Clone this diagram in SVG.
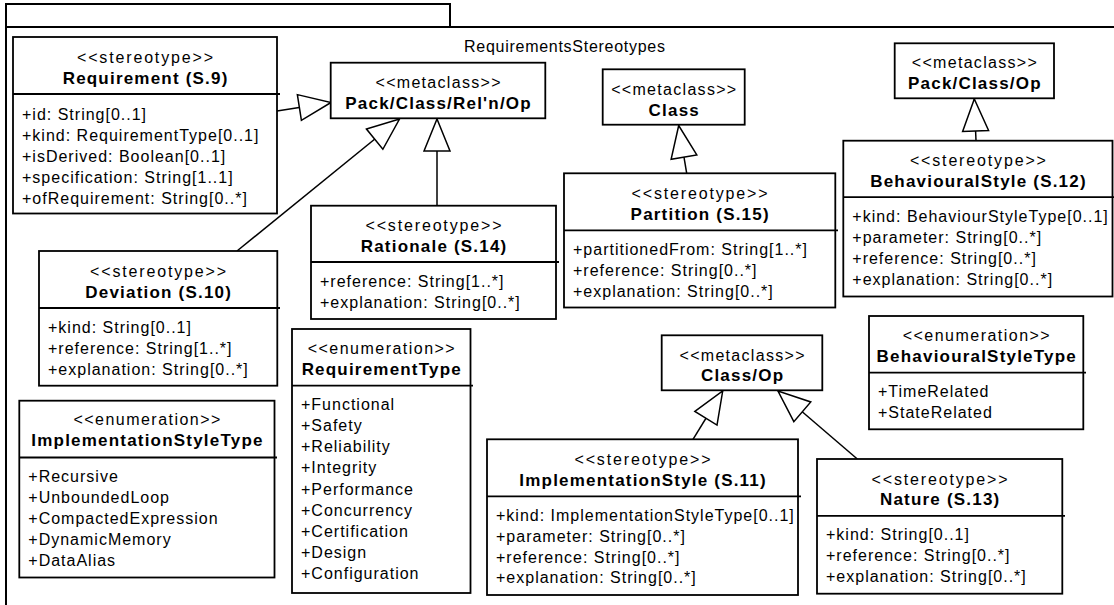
<svg xmlns="http://www.w3.org/2000/svg" width="1114" height="605" viewBox="0 0 1114 605">
<style>
text{font-family:"Liberation Sans",Arial,sans-serif;fill:#000}
.box{fill:#fff;stroke:#000;stroke-width:1.8}
.dv{stroke:#000;stroke-width:1.8}
.st{font-size:16px;text-anchor:middle}
.tt{font-size:17px;font-weight:bold;text-anchor:middle;letter-spacing:1.2px}
.at{font-size:16px;letter-spacing:1px}
.frame{fill:none;stroke:#000;stroke-width:2}
.conn line{stroke:#000;stroke-width:1.5;marker-end:url(#gen)}
</style>
<defs>
<marker id="gen" markerUnits="userSpaceOnUse" viewBox="-2 -2 36 30" markerWidth="36" markerHeight="30" refX="32" refY="13" orient="auto">
<path d="M0,0 L32,13 L0,26 Z" fill="#fff" stroke="#000" stroke-width="1.5"/>
</marker>
</defs>
<rect width="1114" height="605" fill="#fff"/>
<g id="package">
<path class="frame" d="M6,605 V27 H1120"/>
<path class="frame" d="M6,27 V4 H450 V27"/>
<text x="464" y="52" font-size="16" textLength="201" lengthAdjust="spacing">RequirementsStereotypes</text>
</g>

<g id="connectors" class="conn">
<line x1="277" y1="111" x2="331" y2="102.5"/>
<line x1="237" y1="251" x2="399.5" y2="119"/>
<line x1="437" y1="205.7" x2="437" y2="119"/>
<line x1="686.7" y1="173.3" x2="678.7" y2="125.5"/>
<line x1="976" y1="140.7" x2="974.3" y2="99"/>
<line x1="693" y1="439.3" x2="722.7" y2="391"/>
<line x1="857.3" y1="459" x2="778" y2="391"/>
</g>

<g id="requirement">
<rect class="box" x="13" y="37" width="264" height="176.5"/>
<line class="dv" x1="13" y1="94" x2="280" y2="94"/>
<text class="st" x="145" y="62.6" textLength="136" lengthAdjust="spacing">&lt;&lt;stereotype&gt;&gt;</text>
<text class="tt" x="145.6" y="83.5">Requirement (S.9)</text>
<text class="at" x="22" y="120.1">+id: String[0..1]</text>
<text class="at" x="22" y="141.1">+kind: RequirementType[0..1]</text>
<text class="at" x="22" y="162.1">+isDerived: Boolean[0..1]</text>
<text class="at" x="22" y="183.1">+specification: String[1..1]</text>
<text class="at" x="22" y="204.1">+ofRequirement: String[0..*]</text>
</g>

<g id="packClassRelnOp">
<rect class="box" x="330.7" y="62.7" width="214.6" height="55.6"/>
<text class="st" x="438" y="87.6" textLength="125" lengthAdjust="spacing">&lt;&lt;metaclass&gt;&gt;</text>
<text class="tt" x="438.6" y="108.5">Pack/Class/Rel'n/Op</text>
</g>

<g id="class">
<rect class="box" x="602.7" y="69.3" width="142" height="55.4"/>
<text class="st" x="673.7" y="94.6" textLength="125" lengthAdjust="spacing">&lt;&lt;metaclass&gt;&gt;</text>
<text class="tt" x="674.3" y="115.8">Class</text>
</g>

<g id="packClassOp">
<rect class="box" x="894.7" y="43.3" width="159.3" height="55"/>
<text class="st" x="974.3" y="68.3" textLength="125" lengthAdjust="spacing">&lt;&lt;metaclass&gt;&gt;</text>
<text class="tt" x="974.9" y="89.3">Pack/Class/Op</text>
</g>

<g id="partition">
<rect class="box" x="564" y="173.3" width="271.3" height="134.2"/>
<line class="dv" x1="564" y1="230.3" x2="838" y2="230.3"/>
<text class="st" x="699.6" y="198.9" textLength="136" lengthAdjust="spacing">&lt;&lt;stereotype&gt;&gt;</text>
<text class="tt" x="700.2" y="219.8">Partition (S.15)</text>
<text class="at" x="573" y="254.9">+partitionedFrom: String[1..*]</text>
<text class="at" x="573" y="275.9">+reference: String[0..*]</text>
<text class="at" x="573" y="296.9">+explanation: String[0..*]</text>
</g>

<g id="behaviouralStyle">
<rect class="box" x="843.3" y="140.7" width="269.2" height="155.8"/>
<line class="dv" x1="843.3" y1="197.2" x2="1114" y2="197.2"/>
<text class="st" x="977.9" y="166.1" textLength="136" lengthAdjust="spacing">&lt;&lt;stereotype&gt;&gt;</text>
<text class="tt" x="978.5" y="187">BehaviouralStyle (S.12)</text>
<text class="at" x="852.3" y="222.1">+kind: BehaviourStyleType[0..1]</text>
<text class="at" x="852.3" y="243.1">+parameter: String[0..*]</text>
<text class="at" x="852.3" y="264.1">+reference: String[0..*]</text>
<text class="at" x="852.3" y="285.1">+explanation: String[0..*]</text>
</g>

<g id="rationale">
<rect class="box" x="311" y="205.7" width="245" height="113.3"/>
<line class="dv" x1="311" y1="262" x2="559" y2="262"/>
<text class="st" x="433.5" y="230.6" textLength="136" lengthAdjust="spacing">&lt;&lt;stereotype&gt;&gt;</text>
<text class="tt" x="434.1" y="251.7">Rationale (S.14)</text>
<text class="at" x="320" y="286.9">+reference: String[1..*]</text>
<text class="at" x="320" y="307.9">+explanation: String[0..*]</text>
</g>

<g id="deviation">
<rect class="box" x="39" y="251" width="238.3" height="134.7"/>
<line class="dv" x1="39" y1="308" x2="280" y2="308"/>
<text class="st" x="158.1" y="276.6" textLength="136" lengthAdjust="spacing">&lt;&lt;stereotype&gt;&gt;</text>
<text class="tt" x="158.7" y="297.5">Deviation (S.10)</text>
<text class="at" x="48" y="332.6">+kind: String[0..1]</text>
<text class="at" x="48" y="353.6">+reference: String[1..*]</text>
<text class="at" x="48" y="374.6">+explanation: String[0..*]</text>
</g>

<g id="requirementType">
<rect class="box" x="292" y="329" width="178.5" height="264"/>
<line class="dv" x1="292" y1="385.7" x2="473" y2="385.7"/>
<text class="st" x="381.2" y="354.1" textLength="147" lengthAdjust="spacing">&lt;&lt;enumeration&gt;&gt;</text>
<text class="tt" x="381.8" y="375">RequirementType</text>
<text class="at" x="301" y="410.1">+Functional</text>
<text class="at" x="301" y="431.2">+Safety</text>
<text class="at" x="301" y="452.3">+Reliability</text>
<text class="at" x="301" y="473.4">+Integrity</text>
<text class="at" x="301" y="494.5">+Performance</text>
<text class="at" x="301" y="515.6">+Concurrency</text>
<text class="at" x="301" y="536.7">+Certification</text>
<text class="at" x="301" y="557.8">+Design</text>
<text class="at" x="301" y="578.9">+Configuration</text>
</g>

<g id="implementationStyleType">
<rect class="box" x="19.3" y="400.7" width="255.2" height="176.8"/>
<line class="dv" x1="19.3" y1="457.5" x2="277" y2="457.5"/>
<text class="st" x="146.9" y="425.3" textLength="147" lengthAdjust="spacing">&lt;&lt;enumeration&gt;&gt;</text>
<text class="tt" x="147.5" y="446.2">ImplementationStyleType</text>
<text class="at" x="28.3" y="482.1">+Recursive</text>
<text class="at" x="28.3" y="503.1">+UnboundedLoop</text>
<text class="at" x="28.3" y="524.1">+CompactedExpression</text>
<text class="at" x="28.3" y="545.1">+DynamicMemory</text>
<text class="at" x="28.3" y="566.1">+DataAlias</text>
</g>

<g id="classOp">
<rect class="box" x="661.7" y="335.3" width="160.6" height="55"/>
<text class="st" x="742" y="360.6" textLength="125" lengthAdjust="spacing">&lt;&lt;metaclass&gt;&gt;</text>
<text class="tt" x="742.6" y="381.3">Class/Op</text>
</g>

<g id="behaviouralStyleType">
<rect class="box" x="869" y="316" width="214.3" height="113.3"/>
<line class="dv" x1="869" y1="372.7" x2="1086" y2="372.7"/>
<text class="st" x="976.2" y="341.1" textLength="147" lengthAdjust="spacing">&lt;&lt;enumeration&gt;&gt;</text>
<text class="tt" x="976.8" y="362">BehaviouralStyleType</text>
<text class="at" x="878" y="397.1">+TimeRelated</text>
<text class="at" x="878" y="418.1">+StateRelated</text>
</g>

<g id="implementationStyle">
<rect class="box" x="487" y="439.3" width="311" height="155.7"/>
<line class="dv" x1="487" y1="496.3" x2="801" y2="496.3"/>
<text class="st" x="642.5" y="464.9" textLength="136" lengthAdjust="spacing">&lt;&lt;stereotype&gt;&gt;</text>
<text class="tt" x="643.1" y="485.5">ImplementationStyle (S.11)</text>
<text class="at" x="496" y="521.4">+kind: ImplementationStyleType[0..1]</text>
<text class="at" x="496" y="542.2">+parameter: String[0..*]</text>
<text class="at" x="496" y="562.8">+reference: String[0..*]</text>
<text class="at" x="496" y="583.1">+explanation: String[0..*]</text>
</g>

<g id="nature">
<rect class="box" x="817" y="459" width="245.3" height="134.7"/>
<line class="dv" x1="817" y1="515.9" x2="1065" y2="515.9"/>
<text class="st" x="939.6" y="484.6" textLength="136" lengthAdjust="spacing">&lt;&lt;stereotype&gt;&gt;</text>
<text class="tt" x="940.2" y="505.3">Nature (S.13)</text>
<text class="at" x="826" y="540.2">+kind: String[0..1]</text>
<text class="at" x="826" y="561.1">+reference: String[0..*]</text>
<text class="at" x="826" y="582.1">+explanation: String[0..*]</text>
</g>
</svg>
